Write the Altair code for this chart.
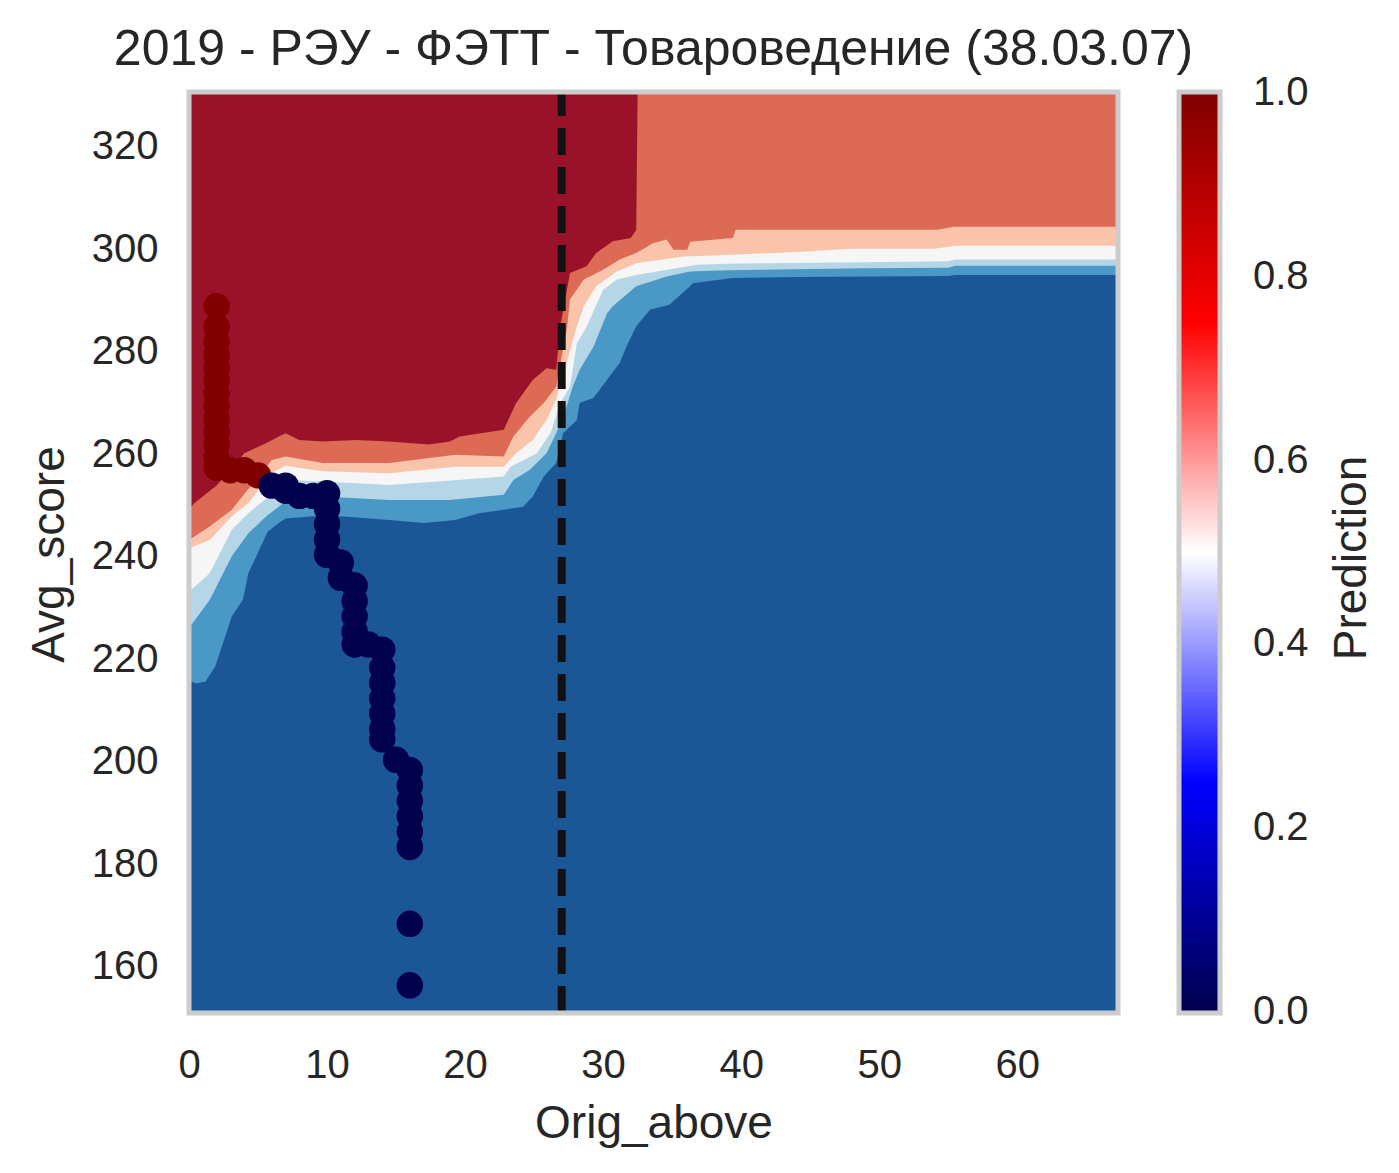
import pandas as pd
import altair as alt

# edges between the colour bands of the prediction surface (x = Orig_above, y = Avg_score)
mid_blue_x = [0, 0.5, 1.2, 1.9, 2.7, 3.1, 3.9, 4.3, 5.2, 5.7, 6.5, 7, 9, 11, 14.5, 17, 19.3, 21, 22.8, 24.2,
              24.9, 25.7, 26.6, 27.1, 28.1, 28.3, 29.3, 30.3, 31.2, 31.7, 32.4, 33.4, 34.8, 36.3, 36.5, 37,
              39.4, 44.3, 55, 55.5, 67.3]
mid_blue_y = [215.5, 214.9, 215.3, 218.2, 224.7, 228, 231.2, 236.4, 241.6, 244.5, 246.2, 247.1, 247.5, 247.5,
              246.8, 246.2, 246.8, 248.1, 248.8, 249.4, 251.4, 255.3, 257.9, 263.7, 266.3, 269.6, 270.6, 274.2,
              277.4, 280.7, 284.6, 287.8, 288.8, 292.4, 293, 293.2, 294, 294.2, 294.4, 294.6, 294.6]

light_blue_x = [0, 1.5, 3.1, 4.3, 5.6, 6.8, 9.7, 14.5, 18.9, 22.8, 23.5, 24.7, 25.9, 26.6, 27.2, 27.8, 28.3,
                29.3, 30.3, 30.7, 32.4, 34.6, 36.3, 39, 49, 55, 55.5, 67.3]
light_blue_y = [225.7, 231.2, 239.7, 244.2, 247.5, 250, 251.4, 250.7, 250.7, 251.7, 254.6, 256.6, 259.8, 263.7,
                267.6, 272.8, 276.1, 280.6, 287.2, 288.5, 292.4, 294.3, 295.3, 295.5, 295.9, 296, 296.4, 296.4]

white_x = [0, 1.5, 3.1, 4.3, 5.6, 7, 9.7, 14.5, 19, 22.8, 23.3, 25.2, 26.2, 26.9, 27.6, 28.1, 28.8, 30, 31,
           32.4, 36.8, 39, 49, 55, 55.5, 67.3]
white_y = [232.8, 236.4, 244.9, 248.1, 251, 254.6, 254.3, 253.6, 254.5, 255.3, 257.2, 259.8, 263.8, 269.6,
           272.8, 281.3, 284.5, 291.7, 293.7, 294.6, 296.6, 296.8, 297.1, 297.3, 297.6, 297.6]

light_red_x = [0, 1.5, 3.1, 4.3, 6, 7, 9.7, 14.5, 19.3, 22.8, 23.7, 24.9, 25.9, 26.6, 27.3, 28.1, 28.6, 29.5,
               31, 32.4, 35.8, 38, 44, 48, 54, 55.5, 67.3]
light_red_y = [241.3, 242.9, 247.5, 250.1, 256, 257.4, 256.3, 255.9, 257.2, 257.2, 259.8, 262.4, 266.3, 270.3,
               277, 284.6, 288.5, 292.4, 295.3, 296.9, 298.2, 298.4, 299.1, 299.7, 299.7, 300.3, 300.3]

mid_red_x = [0, 1.5, 3.1, 4.5, 6, 7, 9.7, 14.5, 19.3, 22.8, 23.5, 24.7, 25.7, 26.6, 27.4, 27.6, 28.6, 30,
             31.2, 32.4, 33.6, 34.6, 35.1, 36.1, 36.3, 39.4, 39.6, 54.2, 55.4, 67.3]
mid_red_y = [242.9, 245.5, 248.8, 253.5, 258.5, 259.2, 257.9, 257.9, 259.5, 259.2, 263.1, 267, 269.6, 272.8,
             284.5, 289.8, 293.7, 295.6, 297.6, 298.9, 300.8, 301.5, 299.5, 299.5, 301.1, 301.8, 303.4, 303.4,
             304, 304]

dark_red_x = [0, 0.4, 1, 2, 3, 4, 5.6, 6.5, 7, 8, 9.7, 12.1, 14.5, 17.4, 18.9, 19.6, 22.8, 23.7, 24.9, 25.9,
              26.6, 26.9, 27.6, 28.8, 29.5, 30.7, 32, 32.4, 32.5, 67.3]
dark_red_y = [248.8, 250.1, 251.4, 253.5, 256.5, 259.8, 261.8, 263.1, 263.7, 262.4, 262.1, 262.4, 262.1, 261.5,
              262.1, 263.1, 264.4, 269.6, 274.1, 276.4, 276.1, 284.6, 295, 296.3, 298.9, 301.2, 301.8, 303.4,
              330.3, 330.3]

# applicants
red_x = [2, 2, 2, 2, 2, 2, 2, 2, 2, 2, 2, 2, 2, 3, 4, 5]
red_y = [288.5, 284.5, 281.5, 279, 276.5, 274, 271.5, 269, 266.5, 264, 261.5, 259, 257, 256.5, 256.5, 255.5]
red_p = [1.0, 1.0, 1.0, 1.0, 1.0, 1.0, 1.0, 1.0, 1.0, 1.0, 1.0, 1.0, 1.0, 1.0, 1.0, 1.0]

blue_x = [6, 7, 7, 8, 9, 10, 10, 10, 10, 10, 11, 11, 12, 12, 12, 12, 12, 13, 14, 14, 14, 14, 14, 14, 14, 15,
          16, 16, 16, 16, 16, 16, 16, 16]
blue_y = [253.5, 253.5, 252.5, 251.5, 251.5, 252, 249, 246, 243, 240, 238.5, 235.5, 234, 231, 228, 225, 222.5,
          222.5, 221.5, 218, 215, 212, 209, 206, 204, 200, 198, 195, 192, 189, 186, 183, 168, 156]
blue_p = [0.0, 0.0, 0.0, 0.0, 0.0, 0.0, 0.0, 0.0, 0.0, 0.0, 0.0, 0.0, 0.0, 0.0, 0.0, 0.0, 0.0, 0.0, 0.0, 0.0,
          0.0, 0.0, 0.0, 0.0, 0.0, 0.0, 0.0, 0.0, 0.0, 0.0, 0.0, 0.0, 0.0, 0.0]

cutoff_x = [27]

x_ticks = [0, 10, 20, 30, 40, 50, 60]
y_ticks = [160, 180, 200, 220, 240, 260, 280, 300, 320]
cbar_ticks = [0.0, 0.2, 0.4, 0.6, 0.8, 1.0]

FONT = 'Liberation Sans'
INK = '#262626'
W, H = 929, 921

x_enc = alt.X('x:Q', scale=alt.Scale(domain=[0, 67.3], nice=False, zero=False),
              axis=alt.Axis(title='Orig_above', values=x_ticks, labelPadding=32, labelFlush=False,
                            titleX=464.5, titleY=124, titleAlign='center', titleBaseline='alphabetic'))
y_enc = alt.Y('y:Q', scale=alt.Scale(domain=[150.6, 330.3], nice=False, zero=False),
              axis=alt.Axis(title='Avg_score', values=y_ticks, labelPadding=31, labelOffset=2,
                            labelFlush=False, titleX=-126, titleY=462, titleAngle=270,
                            titleAlign='center', titleBaseline='alphabetic'))

# paint from the top band down: each area fills everything under its edge
bands = []
for xs, ys, col in [(dark_red_x, dark_red_y, '#dc6a55'),
                    (mid_red_x, mid_red_y, '#fac4aa'),
                    (light_red_x, light_red_y, '#f6f6f6'),
                    (white_x, white_y, '#b4d6e7'),
                    (light_blue_x, light_blue_y, '#4a98c5'),
                    (mid_blue_x, mid_blue_y, '#1b5796')]:
    band = alt.Chart(pd.DataFrame({'x': xs, 'y': ys})).mark_area(color=col, clip=True).encode(
        x=x_enc, y=y_enc)
    bands.append(band)

pts = pd.DataFrame({'x': red_x + blue_x, 'y': red_y + blue_y, 'pred': red_p + blue_p})
points = alt.Chart(pts).mark_circle(size=700, opacity=1).encode(
    x=x_enc, y=y_enc,
    color=alt.Color('pred:Q',
                    scale=alt.Scale(domain=[-0.001, 0.25, 0.5, 0.75, 1.001],
                                    range=['#00004c', '#0000ff', '#ffffff', '#ff0000', '#7f0000'],
                                    interpolate='rgb'),
                    legend=alt.Legend(orient='none', legendX=990, legendY=0, direction='vertical',
                                      gradientLength=H, gradientThickness=41,
                                      gradientStrokeColor='#cccccc', gradientStrokeWidth=5,
                                      values=cbar_ticks, format='.1f', labelFont=FONT, labelFontSize=40,
                                      labelColor=INK, labelOffset=33, labelOverlap=False, padding=0,
                                      title=None))
)

cutoff = alt.Chart(pd.DataFrame({'x': cutoff_x})).mark_rule(
    color='#111111', strokeWidth=8, strokeDash=[27, 12]).encode(x=x_enc, y=alt.value(H), y2=alt.value(0))

frame = alt.Chart(pd.DataFrame({'k': [0]})).mark_rect(
    fillOpacity=0, stroke='#cccccc', strokeWidth=5).encode(
    x=alt.value(0), x2=alt.value(W), y=alt.value(0), y2=alt.value(H))

cbar_title = alt.Chart(pd.DataFrame({'t': ['Prediction']})).mark_text(
    angle=270, font=FONT, fontSize=46, color=INK, align='center', baseline='alphabetic').encode(
    x=alt.value(1177), y=alt.value(466), text='t:N')

chart = alt.layer(*bands, points, cutoff, frame, cbar_title).properties(
    width=W, height=H,
    title=alt.Title('2019 - РЭУ - ФЭТТ - Товароведение (38.03.07)', font=FONT, fontSize=50,
                    fontWeight='normal', color=INK, anchor='middle', baseline='alphabetic',
                    offset=26, dy=53),
    padding={'left': 181, 'top': 84, 'right': 260, 'bottom': 150},
    autosize=alt.AutoSizeParams(type='none'),
).configure_view(
    fill='#9a1229', strokeWidth=0
).configure_axis(
    labelFont=FONT, labelFontSize=40, labelColor=INK, titleFont=FONT, titleFontSize=46,
    titleFontWeight='normal', titleColor=INK, ticks=False, tickSize=0, domain=False, grid=False
)

chart.save('out.html', embed_options={'renderer': 'svg', 'actions': False})
